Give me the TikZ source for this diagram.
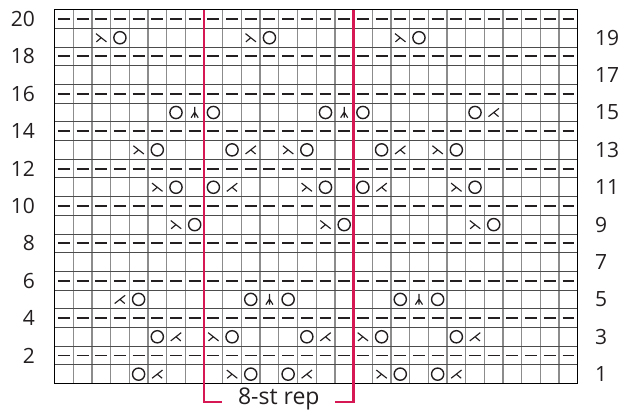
\documentclass[tikz,border=0pt]{standalone}
\usepackage{fontspec}
\setmainfont{Open Sans}
\definecolor{repred}{RGB}{214,24,84}
\definecolor{ink}{RGB}{35,31,32}
\begin{document}
\begin{tikzpicture}[x=18.69pt,y=18.69pt,
  vline/.style={draw=black!45,line width=1.3pt},
  hline/.style={draw=black!70,line width=0.9pt},
  border/.style={draw=black,line width=1pt},
  purl/.style={draw=ink,line width=1.9pt},
  symsty/.style={draw=ink,line width=1.15pt},
  yosty/.style={draw=ink,line width=1.4pt},
  rep/.style={draw=repred,line width=2.2pt},
  lab/.style={font=\fontsize{21}{21}\selectfont,text=ink,inner sep=0pt},
  yo/.pic={\draw[yosty] (0,0) circle (6.1pt);},
  ssk/.pic={\draw[symsty] (-0.28,0.22)--(0.28,-0.22) (-0.26,-0.22)--(0,0);},
  ktog/.pic={\draw[symsty] (0.28,0.22)--(-0.28,-0.22) (0.26,-0.22)--(0,0);},
  cdd/.pic={\draw[symsty] (0,0.3)--(0,-0.28) (0,0.02)--(-0.19,-0.28) (0,0.02)--(0.19,-0.28);}
]
\useasboundingbox (-2.916,-1.418) rectangle (30.417,20.519);
% grid
\foreach \i in {1,...,27} \draw[vline] (\i,0) -- (\i,20);
\foreach \j in {1,...,19} \draw[hline] (0,\j) -- (28,\j);
\draw[border] (0,0) rectangle (28,20);
% purl dashes on even rows
\foreach \r in {2,4,...,20}
  \foreach \c in {1,...,28}
    \draw[purl] (\c-0.82,\r-0.5) -- (\c-0.18,\r-0.5);
% yarn overs
\foreach \c/\r in {4/19,12/19,20/19, 7/15,9/15,15/15,17/15,23/15,
  6/13,10/13,14/13,18/13,22/13, 7/11,9/11,15/11,17/11,23/11,
  8/9,16/9,24/9, 5/5,11/5,13/5,19/5,21/5, 6/3,10/3,14/3,18/3,22/3,
  5/1,11/1,13/1,19/1,21/1}
  \pic at (\c-0.5,\r-0.5) {yo};
% ssk
\foreach \c/\r in {3/19,11/19,19/19, 5/13,13/13,21/13, 6/11,14/11,22/11,
  7/9,15/9,23/9, 9/3,17/3, 10/1,18/1}
  \pic at (\c-0.5,\r-0.5) {ssk};
% k2tog
\foreach \c/\r in {24/15, 11/13,19/13, 10/11,18/11, 4/5, 7/3,15/3,23/3,
  6/1,14/1,22/1}
  \pic at (\c-0.5,\r-0.5) {ktog};
% centered double decrease
\foreach \c/\r in {8/15,16/15,12/5,20/5}
  \pic at (\c-0.5,\r-0.5) {cdd};
% row numbers
\foreach \r in {2,4,...,20}
  \node[lab,anchor=east] (L\r) at (-1.04,\r-0.5) {\r};
\foreach \r in {1,3,...,19}
  \node[lab,anchor=west] (R\r) at (28.92,\r-0.5) {\r};
% repeat bracket
\coordinate (repTL) at (8,20);
\coordinate (repBL) at (8,-0.97);
\coordinate (repEL) at (8.95,-0.97);
\coordinate (repTR) at (16,20);
\coordinate (repBR) at (16,-0.97);
\coordinate (repER) at (15.01,-0.97);
\draw[rep] (repTL) -- (repBL) -- (repEL);
\draw[rep] (repTR) -- (repBR) -- (repER);
\node[lab,font=\fontsize{23}{23}\selectfont,anchor=base] (reptext) at (12,-1.13) {8-st rep};
\end{tikzpicture}
\end{document}
